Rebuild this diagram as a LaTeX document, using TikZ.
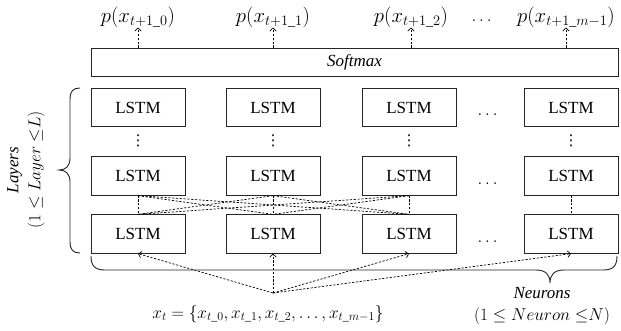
\documentclass[tikz,border=0pt]{standalone}
\usepackage{amsmath}
\usepackage{fontspec}
\setmainfont{Liberation Serif}
\newfontfamily\djv{DejaVu Sans}
\usetikzlibrary{arrows.meta}
\begin{document}
\begin{tikzpicture}[x=1pt,y=-1pt,
  font=\fontsize{17}{20}\selectfont,
  cell/.style={draw=black!85, line width=0.8pt, minimum width=94pt, minimum height=38.5pt, inner sep=0pt},
  dsh/.style={line width=0.7pt, dash pattern=on 2.2pt off 1.6pt},
  arr/.style={dsh, -{Straight Barb[length=3pt,width=6.5pt]}},
  lbl/.style={inner sep=0pt},
  big/.style={font=\fontsize{20}{23}\selectfont},
  vd/.style={inner sep=0pt, font=\djv\fontsize{15}{18}\selectfont},
  brc/.style={line width=0.9pt, draw=black!85}
]
\useasboundingbox (0,0) rectangle (621,330);

% Softmax
\node[draw=black!85, line width=0.8pt, minimum width=527pt, minimum height=28pt, inner sep=0pt] (sm) at (354.5,62) {\textit{Softmax}};

% output labels
\node[lbl,big] (p0) at (138,17) {$p(x_{t+1\_0})$};
\node[lbl,big] (p1) at (273,17) {$p(x_{t+1\_1})$};
\node[lbl,big] (p2) at (411,17) {$p(x_{t+1\_2})$};
\node[lbl] (pe) at (483,21) {$\dots$};
\node[lbl,big] (p3) at (566,17) {$p(x_{t+1\_m-1})$};

\foreach \p in {p0,p1,p2,p3}
  \draw[arr] (sm.north -| \p.south) -- (\p.south);

% LSTM cells
\foreach \c/\x in {1/138,2/273,3/409,4/571}{
  \node[cell] (t\c) at (\x,107.5) {LSTM};
  \node[cell] (m\c) at (\x,176) {LSTM};
  \node[cell] (b\c) at (\x,234) {LSTM};
  \node[vd] (v\c) at (\x,141) {⋮};
}
\node[lbl] (et) at (489,115) {$\dots$};
\node[lbl] (em) at (489,183.5) {$\dots$};
\node[lbl] (eb) at (489,241.5) {$\dots$};

% connections middle -> bottom
\foreach \i in {1,2,3}
  \foreach \j in {1,2,3}
    \draw[dsh] (m\i.south) -- (b\j.north);
\draw[dsh] (m4.south) -- (b4.north);

% input
\coordinate (src) at (273,293);
\node[lbl] (xt) at (268,314) {$x_t = \{x_{t\_0}, x_{t\_1}, x_{t\_2}, \dots, x_{t\_m-1}\}$};
\foreach \c in {1,2,3,4}
  \draw[arr] (src) -- (b\c.south);

% left brace
\draw[brc] (80,88) .. controls (73,88) and (70,91) .. (70,100) -- (70,158)
  .. controls (70,166) and (66,170) .. (59,170)
  .. controls (66,170) and (70,174) .. (70,182) -- (70,241)
  .. controls (70,250) and (73,253) .. (80,253);
\node[lbl, rotate=90, align=center] (lay) at (26,170) {\textit{Layers}\\[2pt]$(1 \leq Layer\ {\leq}L)$};

% bottom brace
\draw[brc] (91,256) .. controls (91,266) and (95,270) .. (105,270) -- (536,270)
  .. controls (546,270) and (550,275) .. (550,283)
  .. controls (550,275) and (554,270) .. (564,270) -- (603,270)
  .. controls (613,270) and (617,266) .. (617,256);
\node[lbl, align=center] (neu) at (542,306.5) {\textit{Neurons}\\[2pt]{\fontsize{18.5}{20}\selectfont$(1 \leq Neuron\ {\leq}N)$}};
\end{tikzpicture}
\end{document}
